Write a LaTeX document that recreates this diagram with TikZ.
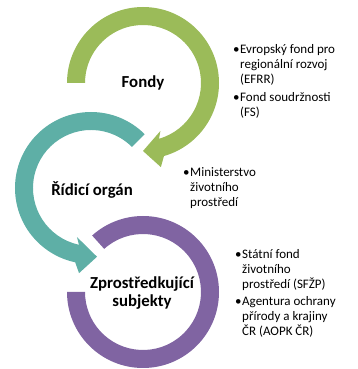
\documentclass[tikz,border=0pt]{standalone}
\usepackage{fontspec}
\setmainfont{Carlito}
\definecolor{cgreen}{HTML}{9BBB59}
\definecolor{cteal}{HTML}{5EAFA6}
\definecolor{cpurple}{HTML}{8064A2}
\begin{document}
\begin{tikzpicture}[x=1pt,y=1pt,
  title/.style={font=\fontsize{16.8}{17.5}\selectfont\bfseries, align=center, inner sep=0pt, text=black},
  bullets/.style={font=\fontsize{13}{15}\selectfont, align=left, inner sep=0pt, anchor=base west, text=black}]
\useasboundingbox (0,0) rectangle (357,369);
% green ring
\begin{scope}[shift={(143,286)}]
\fill[cgreen] (180:76pt) arc[start angle=180,end angle=-74,radius=76pt] -- (-78:86pt) -- (-90:68pt) -- (-70:51pt) -- (-74:58pt) arc[start angle=-74,end angle=180,radius=58pt] -- cycle;
\end{scope}
% teal ring
\begin{scope}[shift={(91,181)}]
\fill[cteal] (45:76pt) arc[start angle=45,end angle=258,radius=76pt] -- (262:86pt) -- (275:69pt) -- (254:51pt) -- (258:58pt) arc[start angle=258,end angle=45,radius=58pt] -- cycle;
\end{scope}
% purple ring
\begin{scope}[shift={(143,77)}]
\fill[cpurple] (180:76pt) arc[start angle=180,end angle=492,radius=76pt] -- (132:58pt) arc[start angle=132,end angle=-180,radius=58pt] -- cycle;
\end{scope}
% titles
\node[title] (fondy) at (143,286) {Fondy};
\node[title] (ridici) at (92,179) {Řídicí orgán};
\node[title] (zprost) at (142,76) {Zprostředkující\\subjekty};
% bullet lists (anchored at the baseline of the last line)
\node[bullets] (b1) at (233,252.5) {\makebox[7pt][l]{•}Evropský fond pro\\\hspace*{7pt}regionální rozvoj\\\hspace*{7pt}(EFRR)\\[3pt]\makebox[7pt][l]{•}Fond soudržnosti\\\hspace*{7pt}(FS)};
\node[bullets] (b2) at (183,162.5) {\makebox[7pt][l]{•}Ministerstvo\\\hspace*{7pt}životního\\\hspace*{7pt}prostředí};
\node[bullets] (b3) at (235,33.5) {\makebox[7pt][l]{•}Státní fond\\\hspace*{7pt}životního\\\hspace*{7pt}prostředí (SFŽP)\\[2pt]\makebox[7pt][l]{•}Agentura ochrany\\\hspace*{7pt}přírody a krajiny\\\hspace*{7pt}ČR (AOPK ČR)};
\end{tikzpicture}
\end{document}
